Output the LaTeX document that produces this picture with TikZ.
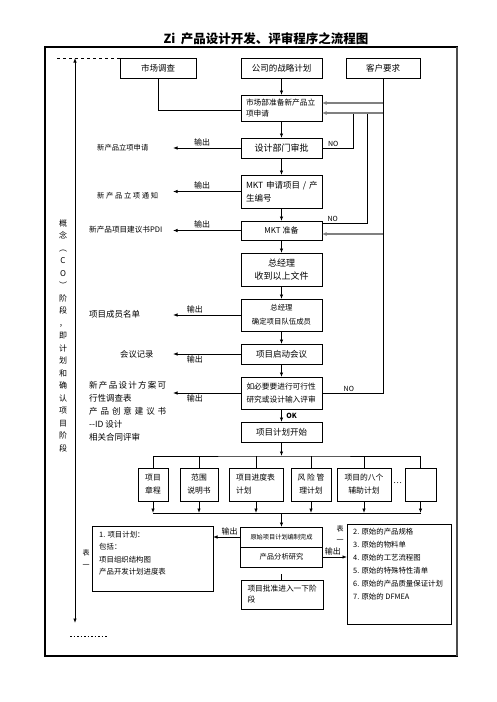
\documentclass[tikz,border=0pt]{standalone}
\usepackage{fontspec}
\setmainfont{Noto Sans CJK SC}
\usetikzlibrary{arrows.meta}
\newcommand{\fsz}[2]{\fontsize{#1}{#2}\selectfont}

\begin{document}
\begin{tikzpicture}[x=1pt, y=-1pt,
  box/.style={draw, line width=1pt, inner sep=2pt, outer sep=0pt, align=center},
  main/.style={box, minimum width=81, font=\fsz{8.5}{13}},
  plan/.style={box, minimum height=33, font=\fsz{7.8}{13}},
  arr/.style={line width=0.8pt, -{Latex[length=4.5pt, width=3.5pt]}},
  fb/.style={draw=gray, line width=1.6pt, -{Latex[length=4.5pt, width=4pt]}},
  link/.style={line width=0.8pt},
  lbl/.style={font=\fsz{8}{9}, inner sep=1.5pt},
  nolbl/.style={font=\fsz{7}{8}, inner sep=1.5pt}]
\useasboundingbox (0,0) rectangle (496,702);
\draw[line width=1.1pt] (45,47) rectangle (457,656);
\draw[line width=2pt, gray!60!black] (457,47) -- (457,656);
\node[font=\fsz{12.5}{14}\bfseries] (title) at (266,39) {Zi \ 产品设计开发、评审程序之流程图};
%Phase
\coordinate (ptop) at (75,58);
\coordinate (pbot) at (75,623);
\draw[line width=0.8pt, {Latex[length=4.5pt, width=3.5pt]}-{Latex[length=4.5pt, width=3.5pt]}] (ptop) -- (pbot);
\coordinate (dtl) at (57,58);
\coordinate (dtr) at (120,58);
\draw[dashed, line width=0.6pt] (dtl) -- (dtr);
\coordinate (dbl) at (70,636);
\coordinate (dbr) at (107,636);
\draw[dash pattern=on 1.5pt off 2pt, line width=0.6pt] (dbl) -- (dbr);
\node[font=\fsz{8}{12.5}, align=center, inner sep=0] (phase) at (63,335.5) {概\\念\\︵\\C\\O\\︶\\阶\\段\\，\\即\\计\\划\\和\\确\\认\\项\\目\\阶\\段};
%Top
\node[box, minimum width=76, minimum height=20, font=\fsz{8.5}{10}] (survey) at (158,68) {市场调查};
\node[box, minimum width=81, minimum height=20, font=\fsz{8.5}{10}] (strategy) at (281.5,68) {公司的战略计划};
\node[box, minimum width=74, minimum height=20, font=\fsz{8.5}{10}] (customer) at (383,68) {客户要求};
%Main column
\node[main, minimum height=26, text width=71, inner xsep=5, align=left, font=\fsz{7.7}{11}] (prep) at (281.5,108) {市场部准备新产品立\\项申请};
\node[main, minimum height=20, font=\fsz{9}{11}] (approve) at (281.5,148) {设计部门审批};
\node[main, minimum height=33, text width=71, inner xsep=5, align=left] (apply) at (281.5,191.5) {\makebox[71pt][s]{MKT 申请项目 / 产}\\生编号};
\node[main, minimum height=19, font=\fsz{8}{10}] (ready) at (281.5,230.5) {MKT 准备};
\node[main, minimum height=33, font=\fsz{9}{13}] (gm1) at (281.5,269.5) {总经理\\收到以上文件};
\node[main, minimum height=32, font=\fsz{7.4}{14}] (gm2) at (281.5,315) {总经理\\确定项目队伍成员};
\node[main, minimum height=20] (kickoff) at (281.5,354) {项目启动会议};
\node[main, minimum height=32, text width=70, inner xsep=5.5, align=left, font=\fsz{7.7}{13}] (feas) at (281.5,393) {如必要要进行可行性\\研究或设计输入评审};
\node[main, minimum height=20] (start) at (281.5,432) {项目计划开始};
\draw[arr] (strategy) -- (prep);
\draw[arr] (prep) -- (approve);
\draw[arr] (approve) -- (apply);
\draw[arr] (apply) -- (ready);
\draw[arr] (ready) -- (gm1);
\draw[arr] (gm1) -- (gm2);
\draw[arr] (gm2) -- (kickoff);
\draw[arr] (kickoff) -- (feas);
\draw[arr] (feas) -- (start) node[nolbl, pos=0.5, right, xshift=3pt, font=\fsz{7}{8}\bfseries] {OK};
\draw[link] (survey.south) |- ([yshift=-2pt]prep.west);
%Feedback
\coordinate (n1) at (353,113);
\coordinate (n2) at (367,113);
\coordinate (n3) at (383,113);
\coordinate (n4) at (383,234);
\draw[link] (approve.east) -| (n1) node[nolbl, pos=0.18, above] {NO};
\draw[link] ([yshift=-2pt]ready.north east) -| (n2) node[nolbl, pos=0.12, above] {NO};
\draw[link] (feas.east) -| (n3) node[nolbl, pos=0.22, above] {NO};
\draw[link] (customer.south) -- (n3);
\draw[fb] (customer.south |- 0,103) -- ([yshift=5pt]prep.east);
\draw[fb] (n3) -- (n3 -| prep.east);
\draw[fb] (n4) -- (n4 -| ready.east);
%Outputs
\coordinate (tipx) at (173,0);
\draw[arr] (approve.west) -- (approve.west -| tipx) node[lbl, pos=0.57, above] {输出};
\draw[arr] (apply.west) -- (apply.west -| tipx) node[lbl, pos=0.57, above] {输出};
\draw[arr] (ready.west) -- (ready.west -| tipx) node[lbl, pos=0.57, above] {输出};
\draw[arr] (gm2.west) -- (gm2.west -| tipx) node[lbl, pos=0.68, above] {输出};
\draw[arr] (kickoff.west) -- (kickoff.west -| tipx) node[lbl, pos=0.68, below] {输出};
\draw[arr] (feas.west) -- (feas.west -| tipx) node[lbl, pos=0.68, below] {输出};
\node[anchor=west, font=\fsz{7.3}{8}, inner sep=0] (o1) at (97,148) {新产品立项申请};
\node[anchor=west, font=\fsz{7.3}{8}, inner sep=0] (o2) at (97,196) {\makebox[61pt][s]{新 产 品 立 项 通 知}};
\node[anchor=west, font=\fsz{7.6}{8}, inner sep=0] (o3) at (89,230) {新产品项目建议书PDI};
\node[anchor=west, font=\fsz{8.5}{9}, inner sep=0] (o4) at (89,314) {项目成员名单};
\node[anchor=west, font=\fsz{8.3}{9}, inner sep=0] (o5) at (120,354) {会议记录};
\node[anchor=north west, align=left, font=\fsz{8.5}{13}, inner sep=0] (o6) at (89,381.5) {\makebox[77pt][s]{新 产 品 设 计 方 案 可}\\行性调查表\\\makebox[77pt][s]{产 品 创 意 建 议 书}\\-{}-ID 设计\\相关合同评审};
%Plans
\node[plan, minimum width=30] (charter) at (153,484.5) {项目\\章程};
\node[plan, minimum width=38] (scope) at (199,484.5) {范围\\说明书};
\node[plan, minimum width=54, text width=40, inner xsep=7, align=left] (sched) at (256,484.5) {项目进度表\\计划};
\node[plan, minimum width=40] (risk) at (311,484.5) {风 险 管\\理计划};
\node[plan, minimum width=54] (aux) at (364,484.5) {项目的八个\\辅助计划};
\node[plan, minimum width=31] (blank) at (420.5,484.5) {};
\node[font=\fsz{8}{9}, inner sep=0] (dots) at (397.5,483) {\dots};
\coordinate (bus1) at (281.5,456);
\coordinate (bus2) at (281.5,513);
\draw[arr] (start) -- (bus1);
\draw[link] (charter.north) |- (bus1) -| (blank.north);
\foreach \n in {scope, sched, risk, aux}
  \draw[link] (\n.north) -- (\n.north |- bus1);
\foreach \n in {charter, scope, sched, risk, aux, blank}
  \draw[arr] (\n.south) -- (\n.south |- bus2);
\draw[link] (charter.south |- bus2) -- (blank.south |- bus2);
%Bottom
\node[box, minimum width=82, minimum height=20, font=\fsz{6.2}{7}] (plandone) at (281.5,537) {原始项目计划编制完成};
\node[box, minimum width=82, minimum height=20, font=\fsz{7.3}{8}, anchor=north] (analysis) at (plandone.south) {产品分析研究};
\draw[arr] (bus2) -- (plandone);
\node[box, minimum width=121, minimum height=65] (outleft) at (152.5,558.5) {};
\node[anchor=north west, align=left, font=\fsz{7.4}{12.5}, inner sep=0] (outlefttxt) at (99,531) {1. 项目计划：\\包括：\\项目组织结构图\\产品开发计划进度表};
\node[box, minimum width=104, minimum height=100] (outright) at (399,574) {};
\node[anchor=north west, align=left, font=\fsz{7.4}{13}, inner sep=0] (outrighttxt) at (353,528.5) {2. 原始的产品规格\\3. 原始的物料单\\4. 原始的工艺流程图\\5. 原始的特殊特性清单\\6. 原始的产品质量保证计划\\7. 原始的 DFMEA};
\node[box, minimum width=82, minimum height=29, text width=70, inner xsep=6, align=left, font=\fsz{7.7}{11}] (nextphase) at (282.5,594.5) {项目批准进入一下阶\\段};
\draw[link, shorten <=7pt] (analysis.south) -- (analysis.south |- nextphase.north);
\draw[arr] (plandone.west) -- (plandone.west -| outleft.east) node[lbl, pos=0.4, above] {输出};
\draw[arr] (analysis.east) -- (analysis.east -| outright.west) node[lbl, pos=0.42, above] {输出};
\node[font=\fsz{7}{12}, align=center, inner sep=0] (tabl) at (86,559) {表\\一};
\node[font=\fsz{7}{10.5}, align=center, inner sep=0] (tabr) at (340,534) {表\\一};
\end{tikzpicture}
\end{document}
